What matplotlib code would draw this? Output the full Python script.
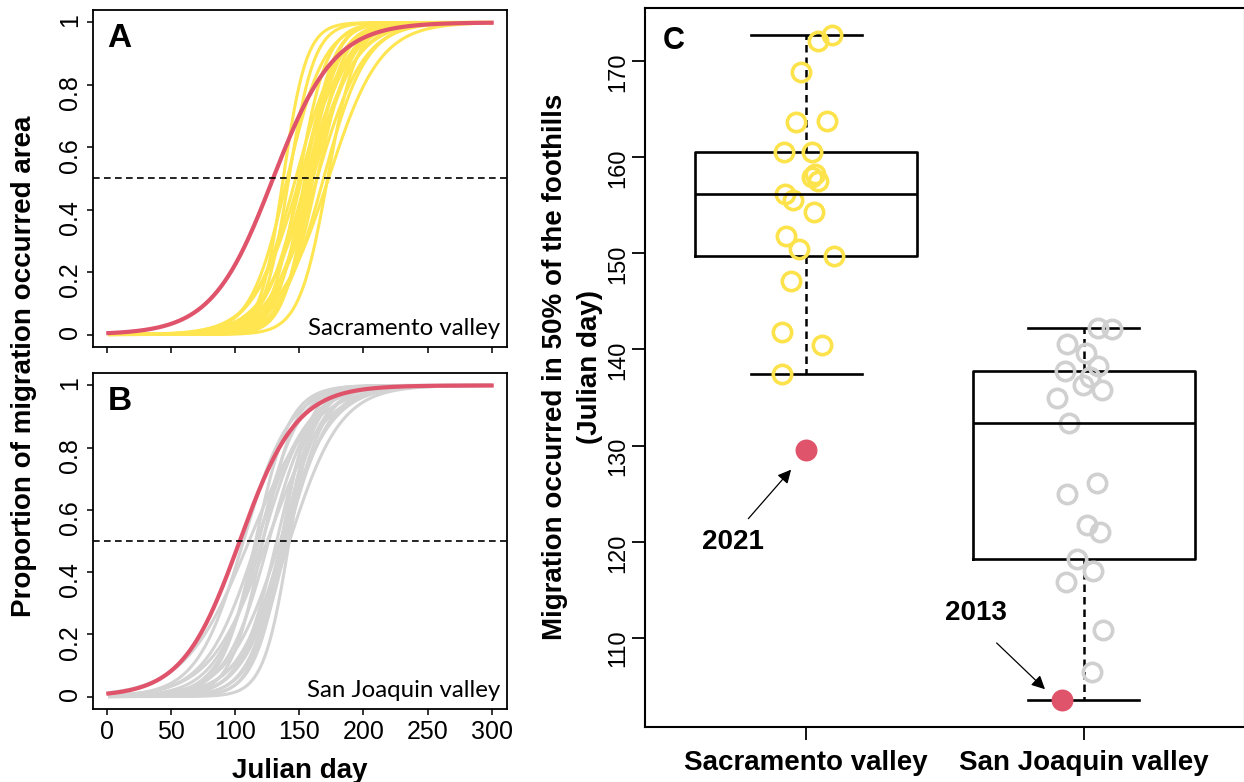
import numpy as np
import matplotlib.pyplot as plt

plt.rcParams['font.family'] = ['Liberation Sans', 'DejaVu Sans']

# Julian days for the cumulative migration curves
days = np.arange(1, 301)

# Sacramento valley: day at which 50% of migration occurred, one value per year
sac_mid = [172.75, 172.06, 168.85, 163.76, 163.7, 160.56, 160.5, 158.3, 157.9, 157.5,
           156.2, 155.5, 154.3, 151.8, 150.4, 149.7, 147.15, 141.8, 140.5, 137.4]
sac_rate = [0.05, 0.09, 0.06, 0.075, 0.055, 0.085, 0.06, 0.07, 0.10, 0.055,
            0.08, 0.06, 0.09, 0.07, 0.055, 0.09, 0.06, 0.10, 0.07, 0.11]
sac_jitter = [0.092, 0.044, -0.019, 0.074, -0.036, 0.020, -0.079, 0.032, 0.022, 0.043,
              -0.075, -0.047, 0.029, -0.072, -0.024, 0.100, -0.055, -0.087, 0.058, -0.087]
sac_2021 = 129.5
sac_2021_rate = 0.042

# San Joaquin valley
sj_mid = [142.28, 142.17, 140.6, 139.66, 138.26, 137.74, 137.1, 136.35, 135.83, 134.96,
          132.3, 126.15, 124.96, 121.7, 121.0, 118.24, 116.95, 115.8, 110.8, 106.4]
sj_rate = [0.05, 0.10, 0.07, 0.06, 0.085, 0.055, 0.075, 0.065, 0.09, 0.05,
           0.07, 0.06, 0.045, 0.08, 0.055, 0.065, 0.05, 0.075, 0.04, 0.055]
sj_jitter = [0.051, 0.100, -0.060, 0.007, 0.051, -0.068, 0.022, -0.003, 0.064, -0.098,
             -0.053, 0.046, -0.060, 0.012, 0.058, -0.026, 0.033, -0.065, 0.067, 0.030]
sj_2013 = 103.5
sj_2013_rate = 0.045
sj_2013_jitter = -0.08

group_names = ['Sacramento valley', 'San Joaquin valley']

yellow = '#FFE550'
grey = '#D3D3D3'
red = '#DF536B'


def logistic(d, mid, rate):
    return 1.0 / (1.0 + np.exp(-rate * (d - mid)))


W, H = 1244, 782
fig = plt.figure(figsize=(W / 100, H / 100), dpi=100)
axA = fig.add_axes([93 / W, 1 - 347 / H, 414 / W, 337 / H])
axB = fig.add_axes([93 / W, 1 - 709 / H, 414 / W, 336 / H])
axC = fig.add_axes([645 / W, 1 - 727 / H, 600 / W, 719 / H])


def curve_panel(ax, mids, rates, col, red_mid, red_rate, letter, region):
    for m, r in zip(mids, rates):
        ax.plot(days, logistic(days, m, r), color=col, lw=2.2, solid_capstyle='butt')
    ax.plot(days, logistic(days, red_mid, red_rate), color=red, lw=3.0)
    ax.axhline(0.5, color='black', lw=1.2, linestyle=(0, (4, 2.6)))
    pad = 0.04 * (days[-1] - days[0])
    ax.set_xlim(days[0] - pad, days[-1] + pad)
    ax.set_ylim(-0.04, 1.04)
    ax.set_xticks(np.arange(0, 301, 50))
    ax.set_yticks([0, 0.2, 0.4, 0.6, 0.8, 1])
    ax.set_yticklabels(['0', '0.2', '0.4', '0.6', '0.8', '1'])
    ax.tick_params(length=4.5, width=1.1, labelsize=18, pad=3.5, direction='out')
    ax.tick_params(axis='y', labelrotation=90)
    for sp in ax.spines.values():
        sp.set_linewidth(1.3)
    ax.text(0.035, 0.962, letter, transform=ax.transAxes, ha='left', va='top',
            fontsize=24, fontweight='bold')
    ax.text(0.983, 0.035, region, transform=ax.transAxes, ha='right', va='baseline',
            fontsize=17.3, family=['Lato', 'DejaVu Sans'])


curve_panel(axA, sac_mid, sac_rate, yellow, sac_2021, sac_2021_rate, 'A', 'Sacramento valley')
axA.tick_params(axis='x', labelbottom=False)
curve_panel(axB, sj_mid, sj_rate, grey, sj_2013, sj_2013_rate, 'B', 'San Joaquin valley')

fig.text(24 / W, 1 - 366 / H, 'Proportion of migration occurred area', rotation=90,
         ha='center', va='center', fontsize=20, fontweight='bold')
fig.text(300 / W, 1 - 778 / H, 'Julian day', ha='center', va='baseline',
         fontsize=20, fontweight='bold')

# Panel C: boxplots of the 50% day with jittered yearly values
sac_all = sac_mid + [sac_2021]
sj_all = sj_mid + [sj_2013]
line_kw = dict(color='black', linewidth=1.9)
axC.boxplot([sac_all, sj_all], positions=[1, 2], widths=0.8, capwidths=0.4,
            showfliers=False, whis=1.5,
            boxprops=line_kw, medianprops=line_kw, capprops=line_kw,
            whiskerprops=dict(color='black', linewidth=1.8, linestyle=(0, (3.0, 2.0))))

axC.plot(1 + np.array(sac_jitter), sac_mid, 'o', mfc='none', mec='#FDE34B',
         ms=13.2, mew=2.6)
axC.plot(2 + np.array(sj_jitter), sj_mid, 'o', mfc='none', mec='#D0D0D0',
         ms=13.2, mew=2.6)
axC.plot([1], [sac_2021], 'o', color=red, ms=15.8, mew=0)
axC.plot([2 + sj_2013_jitter], [sj_2013], 'o', color=red, ms=15.8, mew=0)

arrow_kw = dict(arrowstyle='-|>', color='black', lw=0.9, mutation_scale=20,
                shrinkA=0, shrinkB=0)
axC.annotate('', xy=(0.946, 127.5), xytext=(0.792, 122.4), arrowprops=arrow_kw)
axC.text(0.736, 120.0, '2021', ha='center', va='center', fontsize=20, fontweight='bold')
axC.annotate('', xy=(1.860, 104.66), xytext=(1.686, 109.47), arrowprops=arrow_kw)
axC.text(1.611, 112.6, '2013', ha='center', va='center', fontsize=20, fontweight='bold')

all_vals = sac_all + sj_all
lo, hi = min(all_vals), max(all_vals)
rng = hi - lo
axC.set_ylim(lo - 0.04 * rng, hi + 0.04 * rng)
axC.set_xlim(0.42, 2.58)
axC.set_yticks(np.arange(110, 171, 10))
axC.set_xticks([1, 2])
axC.set_xticklabels(group_names, fontsize=20, fontweight='bold')
axC.tick_params(axis='y', labelrotation=90, labelsize=17, pad=1.5)
axC.tick_params(length=9.5, width=1.3, direction='out')
axC.tick_params(axis='x', pad=7)
for sp in axC.spines.values():
    sp.set_linewidth(1.5)
axC.text(0.03, 0.975, 'C', transform=axC.transAxes, ha='left', va='top',
         fontsize=22, fontweight='bold')

fig.text(555 / W, 1 - 367 / H, 'Migration occurred in 50% of the foothills', rotation=90,
         ha='center', va='center', fontsize=20, fontweight='bold')
fig.text(590 / W, 1 - 367 / H, '(Julian day)', rotation=90,
         ha='center', va='center', fontsize=20, fontweight='bold')

fig.savefig('out.png', dpi=100)
